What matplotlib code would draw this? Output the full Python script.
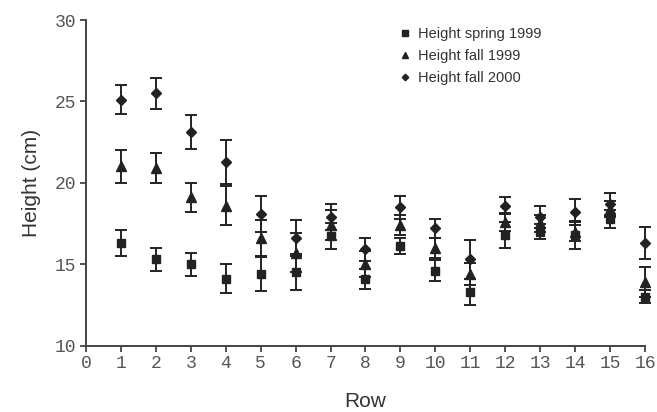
import numpy as np
import matplotlib.pyplot as plt
from matplotlib.lines import Line2D

# 数据：行号、三次测量的平均高度与误差
rows = list(range(1, 17))

spring_1999 = [16.3, 15.3, 15.0, 14.1, 14.4, 14.5, 16.7, 14.1, 16.1, 14.6, 13.3, 16.8, 17.0, 16.8, 17.8, 13.0]
spring_1999_err = [0.8, 0.7, 0.7, 0.9, 1.05, 1.1, 0.8, 0.6, 0.5, 0.65, 0.8, 0.8, 0.45, 0.85, 0.55, 0.4]

fall_1999 = [21.0, 20.9, 19.1, 18.6, 16.6, 15.7, 17.4, 15.0, 17.4, 16.0, 14.4, 17.6, 17.5, 17.0, 18.4, 13.9]
fall_1999_err = [1.0, 0.9, 0.9, 1.2, 1.1, 1.2, 0.9, 0.8, 0.6, 0.6, 0.7, 0.55, 0.5, 0.6, 0.5, 0.9]

fall_2000 = [25.1, 25.5, 23.1, 21.3, 18.1, 16.6, 17.9, 15.9, 18.5, 17.2, 15.3, 18.6, 17.9, 18.2, 18.7, 16.3]
fall_2000_err = [0.9, 0.95, 1.05, 1.35, 1.1, 1.1, 0.8, 0.7, 0.7, 0.6, 1.2, 0.55, 0.7, 0.8, 0.7, 1.0]

x_ticks = list(range(0, 17))
y_ticks = [10, 15, 20, 25, 30]

ink = '#222222'
tick_color = '#555555'

fig = plt.figure(figsize=(6.57, 4.12), dpi=100)
ax = fig.add_axes([0.1309, 0.1614, 0.8508, 0.790])

series = [
    (spring_1999, spring_1999_err, 's', 6.0, 'Height spring 1999'),
    (fall_1999, fall_1999_err, '^', 6.5, 'Height fall 1999'),
    (fall_2000, fall_2000_err, 'D', 4.6, 'Height fall 2000'),
]

handles = []
for vals, errs, marker, ms, label in series:
    eb = ax.errorbar(rows, vals, yerr=errs, fmt=marker, color=ink, ecolor=ink,
                     markersize=ms, elinewidth=1.4, capsize=4, capthick=1.4,
                     clip_on=False, zorder=3)
    for art in eb.get_children():
        art.set_clip_on(False)
    # 图例只显示标记
    handles.append(Line2D([], [], linestyle='none', marker=marker, color=ink,
                          markersize=ms * 0.72, label=label))

ax.set_xlim(0, 16)
ax.set_ylim(10, 30)
ax.set_xticks(x_ticks)
ax.set_yticks(y_ticks)

for side in ['top', 'right']:
    ax.spines[side].set_visible(False)
for side in ['left', 'bottom']:
    ax.spines[side].set_color('#444444')
    ax.spines[side].set_linewidth(1.4)

ax.tick_params(axis='both', direction='out', length=4.5, width=1.3, color='#444444',
               labelcolor=tick_color, labelsize=13, pad=2.5)
for lbl in ax.get_xticklabels() + ax.get_yticklabels():
    lbl.set_fontfamily('Liberation Mono')

ax.set_xlabel('Row', fontsize=15, family='Liberation Sans', color='#333333', labelpad=14)
ax.set_ylabel('Height (cm)', fontsize=15, family='Liberation Sans', color='#333333', labelpad=10)

leg = ax.legend(handles=handles, loc='upper left', bbox_to_anchor=(0.54, 1.02),
                frameon=False, handlelength=0.6, handletextpad=0.6, labelspacing=0.55,
                prop={'family': 'Liberation Sans', 'size': 10.5})
for t in leg.get_texts():
    t.set_color('#333333')

plt.savefig('out.png', dpi=100)
